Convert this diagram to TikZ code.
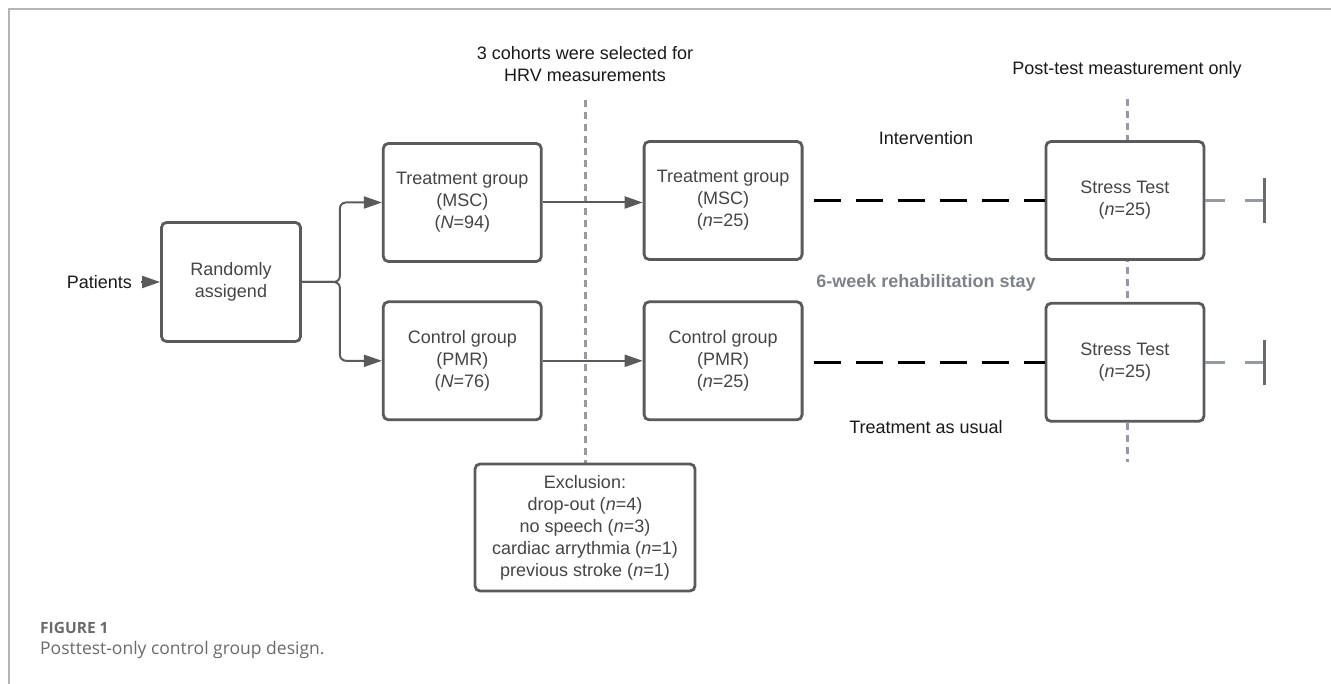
\documentclass[tikz,border=0pt]{standalone}
\usepackage{fontspec}
\setmainfont{Liberation Sans}
\newfontfamily\captionfont{Open Sans}
\usetikzlibrary{
    arrows.meta,
    positioning,
    backgrounds
}
\definecolor{boxline}{HTML}{5A5A5A}
\definecolor{boxtext}{HTML}{454545}
\definecolor{cutline}{HTML}{959AA2}
\definecolor{staytext}{HTML}{7D828A}
\definecolor{frameline}{HTML}{B4B4B4}
\definecolor{captext}{HTML}{6A6A6A}

\begin{document}
\begin{tikzpicture}[
        x=1pt, y=-1pt,
        node distance=37.5pt and 100pt,
        every node/.style={font=\fontsize{18}{22}\selectfont},
        group/.style={
            rectangle,
            rounded corners=5pt,
            draw=boxline,
            line width=2.8pt,
            fill=white,
            text=boxtext,
            minimum width=158pt,
            minimum height=118pt,
            align=center,
            inner sep=2pt
        },
        arrow/.style={
            -{Triangle[length=18pt,width=12pt]},
            line width=2pt,
            draw=boxline
        },
        cut/.style={draw=cutline,line width=3pt,dash pattern=on 7pt off 5pt},
        interv/.style={draw=black,line width=2.8pt,dash pattern=on 27pt off 15pt},
        followup/.style={
            draw=cutline,
            line width=2.6pt,
            dash pattern=on 20pt off 20pt,
            -{Bar[width=45pt,line width=3pt,color=boxline!90]}
        },
        annotation/.style={text=black!90,align=center,inner sep=0pt},
        frame/.style={draw=frameline,line width=1.5pt}
    ]
        \useasboundingbox (0,0) rectangle (1331,684);
        \draw[frame] (9,684) -- (9,9) -- (1331,9);

        % Randomisation
        \node[group, minimum width=139pt, minimum height=119pt] (rand) at (231,282)
            {Randomly\\assigend};
        \node[annotation, left=19pt of rand, inner xsep=9pt] (patients) {Patients};
        \draw[arrow] (patients) -- (rand);

        % Assigned groups
        \node[group, right=80pt of rand, yshift=79.5pt] (treatA)
            {Treatment group\\(MSC)\\(\textit{N}=94)};
        \node[group, below=of treatA] (ctrlA)
            {Control group\\(PMR)\\(\textit{N}=76)};
        \coordinate[right=38pt of rand] (fork);
        \draw[arrow, rounded corners=6pt] (rand) -- (fork) |- (treatA);
        \draw[arrow, rounded corners=6pt] (rand) -- (fork) |- (ctrlA);

        % HRV cohorts
        \node[group, right=of treatA, yshift=2pt] (treatB)
            {Treatment group\\(MSC)\\(\textit{n}=25)};
        \node[group, right=of ctrlA] (ctrlB)
            {Control group\\(PMR)\\(\textit{n}=25)};
        \draw[arrow] (treatA.east) -- (treatA.east -| treatB.west);
        \draw[arrow] (ctrlA) -- (ctrlB);

        \node[group, minimum width=220pt, minimum height=127pt] (excl) at (585,527.5)
            {Exclusion:\\drop-out (\textit{n}=4)\\no speech (\textit{n}=3)\\
             cardiac arrythmia (\textit{n}=1)\\previous stroke (\textit{n}=1)};

        % Post-test
        \node[group, right=241pt of treatB] (stressA) {Stress Test\\(\textit{n}=25)};
        \node[group, right=241pt of ctrlB, yshift=-1.5pt] (stressB) {Stress Test\\(\textit{n}=25)};
        \draw[interv] ([xshift=10pt]treatB.east) -- (stressA.west);
        \draw[interv] ([xshift=10pt]ctrlB.east |- stressB.west) -- (stressB.west);

        \coordinate[right=61pt of stressA] (endA);
        \coordinate[right=61pt of stressB] (endB);
        \draw[followup] (stressA.east) -- (endA);
        \draw[followup] (stressB.east) -- (endB);

        % Measurement cuts
        \coordinate (cutA) at (585,100);
        \coordinate (cutB) at (1127,99);
        \coordinate (cutBend) at (1127,462);
        \begin{scope}[on background layer]
            \draw[cut] (cutA) -- (excl.north);
            \draw[cut] (cutB) -- (cutBend);
        \end{scope}

        % Labels
        \node[annotation] (cohorts) at (585,64)
            {3 cohorts were selected for\\HRV measurements};
        \node[annotation] (posttest) at (1127,70) {Post-test measturement only};
        \node[annotation] (intervention) at (926,138) {Intervention};
        \node[annotation, text=staytext, font=\fontsize{18}{22}\selectfont\bfseries]
            (stay) at (926,283) {6-week rehabilitation stay};
        \node[annotation] (usual) at (926,427) {Treatment as usual};

        % Caption
        \node[anchor=base west, inner sep=0pt, text=captext,
            font=\captionfont\bfseries\fontsize{15.5}{18}\selectfont]
            (figlabel) at (40,633) {FIGURE 1};
        \node[anchor=base west, inner sep=0pt, text=captext,
            font=\captionfont\fontsize{17.5}{20}\selectfont]
            (figcaption) at (40,654) {Posttest-only control group design.};
    \end{tikzpicture}
\end{document}
